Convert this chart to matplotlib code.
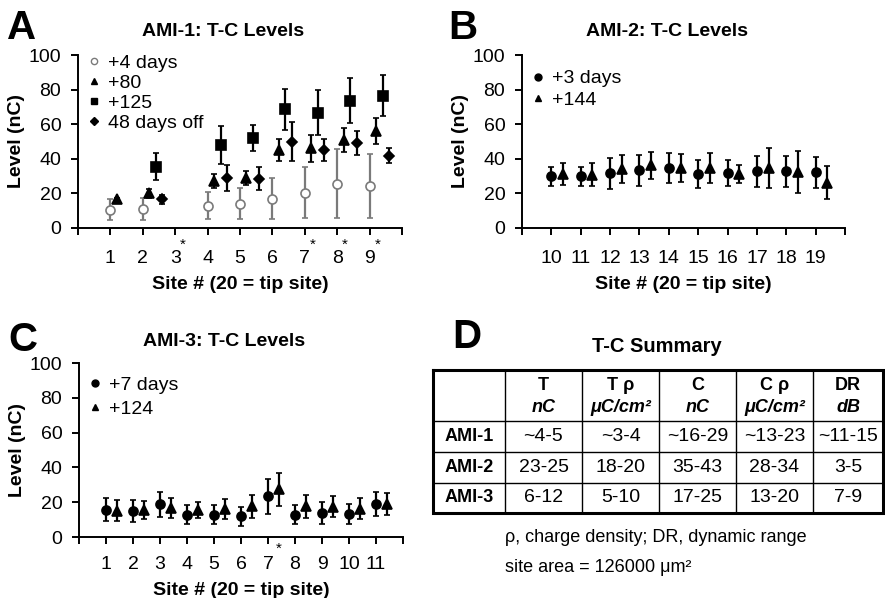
import numpy as np
import matplotlib
matplotlib.use("Agg")
import matplotlib.pyplot as plt
from matplotlib.lines import Line2D

plt.rcParams['font.family'] = ['Liberation Sans', 'DejaVu Sans']

# ---- panel A: AMI-1 ----
a_sites_day4 = [1, 2, 4, 5, 6, 7, 8, 9]
a_day4 = [10.5, 11, 13, 14, 17, 20.5, 25.5, 24.5]
a_day4_err = [6, 6.5, 8, 9, 12, 15, 20, 18.5]

a_sites_80 = [1, 2, 4, 5, 6, 7, 8, 9]
a_80 = [16.5, 20, 27, 29, 45, 46, 51, 56]
a_80_err = [1, 2.5, 4, 4, 6.5, 8, 7, 7.7]

a_sites_125 = [2, 4, 5, 6, 7, 8, 9]
a_125 = [35.5, 48, 52, 68.5, 66.5, 73.5, 76.5]
a_125_err = [8, 11, 7.5, 12, 13, 13, 11.7]

a_sites_off = [2, 4, 5, 6, 7, 8, 9]
a_off = [16.5, 29, 28.5, 50, 45, 49.3, 41.7]
a_off_err = [2.5, 7.5, 6.5, 11, 6.5, 7, 4.3]

a_star_sites = [3, 7, 8, 9]

# ---- panel B: AMI-2 ----
b_sites = [10, 11, 12, 13, 14, 15, 16, 17, 18, 19]
b_day3 = [29.8, 29.8, 31.7, 33.3, 34.5, 31.3, 31.7, 32.7, 32.7, 32.3]
b_day3_err = [5.5, 5.5, 9, 9, 8.7, 8, 7.5, 9, 9, 9]
b_144 = [31, 30.8, 34.2, 36.2, 34.6, 34.6, 31.3, 34.6, 32.3, 26.3]
b_144_err = [6.3, 6.5, 8, 8, 8, 8.7, 5.3, 11.5, 12, 9.6]

# ---- panel C: AMI-3 ----
c_sites = [1, 2, 3, 4, 5, 6, 7, 8, 9, 10, 11]
c_day7 = [15.8, 15, 18.7, 12.9, 12.9, 11.9, 23.5, 12.9, 13.8, 13, 18.8]
c_day7_err = [6.7, 6.5, 7.3, 5.6, 5.5, 5.5, 10, 5.6, 6.3, 5.8, 7]
c_124 = [15, 15.4, 16.7, 15.4, 16, 17.7, 27.3, 17.7, 17.3, 16.3, 18.8]
c_124_err = [6, 5.3, 5.7, 4.7, 5.7, 6.5, 9.5, 6.7, 6, 6.2, 6.3]
c_star_sites = [7]

# ---- panel D: summary table ----
col_heads = ['T', 'T \u03c1', 'C', 'C \u03c1', 'DR']
col_units = ['nC', '\u03bcC/cm\u00b2', 'nC', '\u03bcC/cm\u00b2', 'dB']
row_heads = ['AMI-1', 'AMI-2', 'AMI-3']
table_vals = [['~4-5', '~3-4', '~16-29', '~13-23', '~11-15'],
              ['23-25', '18-20', '35-43', '28-34', '3-5'],
              ['6-12', '5-10', '17-25', '13-20', '7-9']]

W, H = 885, 598
fig = plt.figure(figsize=(W / 100, H / 100), dpi=100)


def px_axes(x0, y0, x1, y1):
    # pixel box (top-left origin) -> figure fraction axes
    return fig.add_axes([x0 / W, 1 - y1 / H, (x1 - x0) / W, (y1 - y0) / H])


TICK_FS = 14
GRAY = '#7a7a7a'


def style_axes(ax, xlim, labels, xpad, lpad):
    ax.set_xlim(*xlim)
    ax.set_ylim(0, 100)
    for s in ['top', 'right']:
        ax.spines[s].set_visible(False)
    for s in ['left', 'bottom']:
        ax.spines[s].set_linewidth(1.4)
    ax.set_yticks([0, 20, 40, 60, 80, 100])
    ticks = np.arange(xlim[0], xlim[1] + 1)
    ax.set_xticks(ticks)
    ax.set_xticklabels([str(v) if v in labels else '' for v in ticks])
    ax.tick_params(axis='x', direction='out', length=5, width=1.4, pad=xpad, labelsize=TICK_FS)
    ax.tick_params(axis='y', direction='out', length=5, width=1.4, pad=7, labelsize=TICK_FS)
    ax.set_ylabel('Level (nC)', fontsize=14, fontweight='bold', labelpad=3)
    ax.set_xlabel('Site # (20 = tip site)', fontsize=14, fontweight='bold', labelpad=lpad)


def ebar(ax, x, y, e, marker, ms, color='black', mfc=None):
    ax.errorbar(x, y, yerr=e, fmt=marker, ms=ms, color=color, ecolor=color,
                mfc=color if mfc is None else mfc, mec=color, mew=1.2,
                elinewidth=1.6, capsize=2, capthick=1.6, clip_on=False)


def legend(ax, entries, anchor, spacing):
    handles = [Line2D([], [], ls='none', marker=m, ms=ms, color=c, mfc=fc, mec=c, mew=1)
               for m, ms, c, fc, _ in entries]
    ax.legend(handles, [e[4] for e in entries], loc='upper left', bbox_to_anchor=anchor,
              frameon=False, fontsize=14, handlelength=0.5, handletextpad=0.45,
              labelspacing=spacing, borderaxespad=0, borderpad=0)


def stars(ax, sites, dx, y):
    for s in sites:
        ax.text(s + dx, y, '*', ha='center', va='center', fontsize=11, clip_on=False)


# Panel A
axA = px_axes(78, 55, 402, 228)
style_axes(axA, (0, 10), range(1, 10), 11, 6)
ebar(axA, np.array(a_sites_day4), a_day4, a_day4_err, 'o', 6.5, color=GRAY, mfc='white')
ebar(axA, np.array(a_sites_80) + 0.2, a_80, a_80_err, '^', 7)
ebar(axA, np.array(a_sites_125) + 0.4, a_125, a_125_err, 's', 6.5)
ebar(axA, np.array(a_sites_off) + 0.6, a_off, a_off_err, 'D', 5)
legend(axA, [('o', 4.5, GRAY, 'white', '+4 days'), ('^', 5, 'black', 'black', '+80'),
             ('s', 4.5, 'black', 'black', '+125'), ('D', 4, 'black', 'black', '48 days off')],
       (0.035, 1.005), 0.12)
stars(axA, a_star_sites, 0.24, -9.5)

# Panel B
axB = px_axes(522, 55, 845, 228)
style_axes(axB, (9, 20), range(10, 20), 11, 6)
ebar(axB, np.array(b_sites), b_day3, b_day3_err, 'o', 6.5)
ebar(axB, np.array(b_sites) + 0.4, b_144, b_144_err, '^', 7)
legend(axB, [('o', 5, 'black', 'black', '+3 days'), ('^', 5, 'black', 'black', '+144')],
       (0.035, 0.915), 0.22)

# Panel C
axC = px_axes(79, 363, 403, 537)
style_axes(axC, (0, 12), range(1, 12), 9, 6)
ebar(axC, np.array(c_sites), c_day7, c_day7_err, 'o', 6.5)
ebar(axC, np.array(c_sites) + 0.4, c_124, c_124_err, '^', 7)
legend(axC, [('o', 5, 'black', 'black', '+7 days'), ('^', 5, 'black', 'black', '+124')],
       (0.035, 0.925), 0.33)
stars(axC, c_star_sites, 0.4, -7)

# panel letters and titles
fig.text(22 / W, 1 - 28 / H, 'A', fontsize=29, fontweight='bold', ha='center', va='center')
fig.text(463 / W, 1 - 28 / H, 'B', fontsize=29, fontweight='bold', ha='center', va='center')
fig.text(23 / W, 1 - 340 / H, 'C', fontsize=29, fontweight='bold', ha='center', va='center')
fig.text(467 / W, 1 - 337 / H, 'D', fontsize=29, fontweight='bold', ha='center', va='center')
fig.text(223 / W, 1 - 32 / H, 'AMI-1: T-C Levels', fontsize=14, fontweight='bold', ha='center', va='center')
fig.text(667 / W, 1 - 32 / H, 'AMI-2: T-C Levels', fontsize=14, fontweight='bold', ha='center', va='center')
fig.text(224 / W, 1 - 341 / H, 'AMI-3: T-C Levels', fontsize=14, fontweight='bold', ha='center', va='center')
fig.text(657 / W, 1 - 347 / H, 'T-C Summary', fontsize=14.5, fontweight='bold', ha='center', va='center')

# Panel D table
col_x = [433, 505, 582, 659, 736, 813, 883]
row_y = [370, 421, 452, 483, 513]
axD = px_axes(col_x[0], row_y[0], col_x[-1], row_y[-1])
axD.set_xlim(col_x[0], col_x[-1])
axD.set_ylim(row_y[-1], row_y[0])
axD.axis('off')
for x in col_x[1:-1]:
    axD.plot([x, x], [row_y[0], row_y[-1]], color='black', lw=1.0)
for y in row_y[1:-1]:
    axD.plot([col_x[0], col_x[-1]], [y, y], color='black', lw=1.0)
axD.plot([col_x[0], col_x[-1], col_x[-1], col_x[0], col_x[0]],
         [row_y[0], row_y[0], row_y[-1], row_y[-1], row_y[0]], color='black', lw=2.2,
         clip_on=False, solid_joinstyle='miter')
for j, (hd, un) in enumerate(zip(col_heads, col_units)):
    cx = (col_x[j + 1] + col_x[j + 2]) / 2
    axD.text(cx, 386, hd, ha='center', va='center', fontsize=13, fontweight='bold')
    axD.text(cx, 407, un, ha='center', va='center', fontsize=13, fontweight='bold', style='italic')
for i, rh in enumerate(row_heads):
    cy = (row_y[i + 1] + row_y[i + 2]) / 2
    axD.text((col_x[0] + col_x[1]) / 2, cy, rh, ha='center', va='center', fontsize=13, fontweight='bold')
    for j, v in enumerate(table_vals[i]):
        cx = (col_x[j + 1] + col_x[j + 2]) / 2
        axD.text(cx, cy, v, ha='center', va='center', fontsize=14)

fig.text(505 / W, 1 - 537 / H, '\u03c1, charge density; DR, dynamic range', fontsize=13, ha='left', va='center')
fig.text(505 / W, 1 - 567 / H, 'site area = 126000 \u03bcm\u00b2', fontsize=13, ha='left', va='center')

fig.savefig('out.png', dpi=100)
